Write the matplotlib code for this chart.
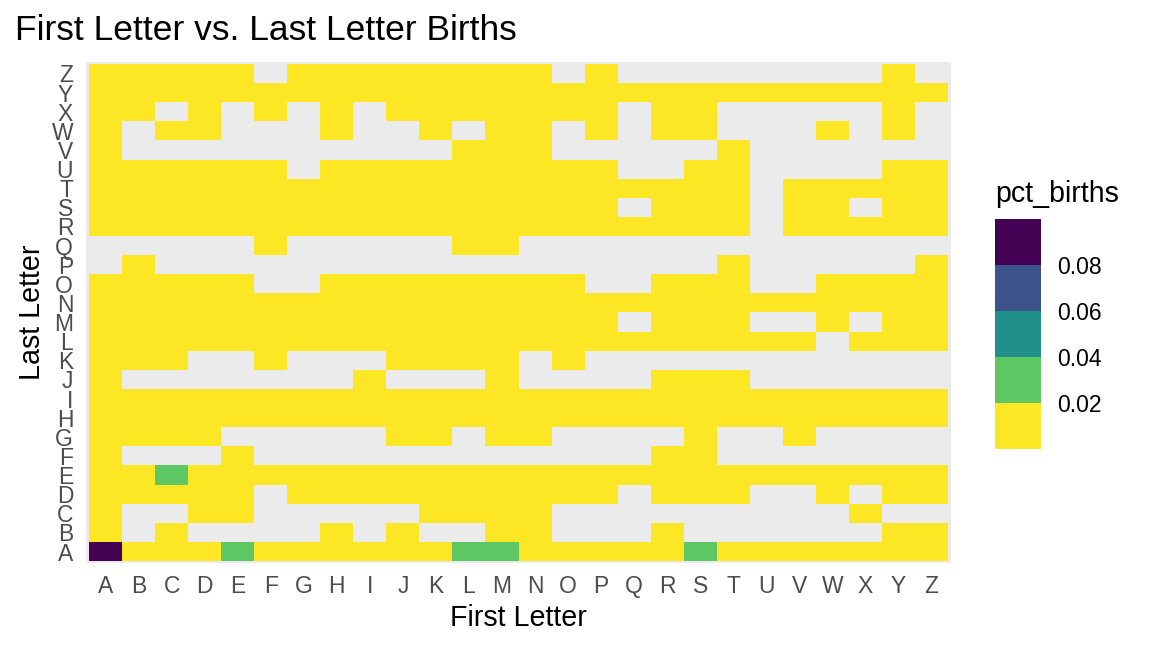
"""Heatmap of first letter vs. last letter share of births."""

import numpy as np
import matplotlib
matplotlib.use('Agg')
import matplotlib.pyplot as plt
from matplotlib.colors import ListedColormap, BoundaryNorm
import matplotlib.colorbar as mcolorbar

plt.rcParams['font.family'] = ['Liberation Sans', 'DejaVu Sans']

letters = list("ABCDEFGHIJKLMNOPQRSTUVWXYZ")

# presence of each combination: key = last letter, string = first letter A..Z
present_rows = {
    'A': "11111111111111111111111111",
    'B': "10100001010011000100000011",
    'C': "10011000001111000000000100",
    'D': "11111011111111110111001011",
    'E': "11111111111111111111111111",
    'F': "10001000000000000110000000",
    'G': "11110000011011000010010000",
    'H': "11111111111111111111111111",
    'I': "11111111111111111111111111",
    'J': "10000000100010000111000000",
    'K': "11100100011110100000000000",
    'L': "11111111111111111111110111",
    'M': "11111111111111110111001011",
    'N': "11111111111111111111111111",
    'O': "11111001111111100111001111",
    'P': "01000000000000000001000001",
    'Q': "00000100000110000000000000",
    'R': "11111111111111111111011111",
    'S': "11111111111111110111011011",
    'T': "11111111111111111111011111",
    'U': "11111101111111110011000011",
    'V': "10000000000111000001000000",
    'W': "10110001001011010110001010",
    'X': "11010101011111110110000010",
    'Y': "11111111111111111111111111",
    'Z': "11111011111111010000000010",
}

# most combinations sit below 0.02; the few larger ones (first, last)
base_pct = 0.005
notable_pct = {
    ('A', 'A'): 0.095,
    ('E', 'A'): 0.026,
    ('L', 'A'): 0.025,
    ('M', 'A'): 0.027,
    ('S', 'A'): 0.024,
    ('C', 'E'): 0.022,
}

bin_breaks = [0, 0.02, 0.04, 0.06, 0.08, 0.1]
bin_labels = ['0.02', '0.04', '0.06', '0.08']
bin_colors = ['#FDE725', '#5DC863', '#21908C', '#3B528B', '#440154']

# build value grid (rows = last letter, cols = first letter)
grid = np.full((26, 26), np.nan)
for r, last in enumerate(letters):
    for c, flag in enumerate(present_rows[last]):
        if flag == '1':
            grid[r, c] = notable_pct.get((letters[c], last), base_pct)
grid = np.ma.masked_invalid(grid)

cmap = ListedColormap(bin_colors)
norm = BoundaryNorm(bin_breaks, cmap.N)

fig = plt.figure(figsize=(11.52, 6.48), dpi=100)
ax = fig.add_axes([0.0744, 0.1312, 0.7514, 0.7731])
ax.set_facecolor('#EBEBEB')
edges = np.arange(27) - 0.5
ax.pcolormesh(edges, edges, grid, cmap=cmap, norm=norm, edgecolors='none')
ax.set_xlim(-0.6, 25.6)
ax.set_ylim(-0.6, 25.6)
ax.set_xticks(range(26))
ax.set_yticks(range(26))
ax.set_xticklabels(letters)
ax.set_yticklabels(letters)
ax.tick_params(length=0, labelsize=16.5, labelcolor='#4D4D4D', pad=9)
for s in ax.spines.values():
    s.set_visible(False)
ax.set_xlabel("First Letter", fontsize=20.6, labelpad=4)
ax.set_ylabel("Last Letter", fontsize=20.6, labelpad=4)

fig.text(0.013, 0.938, "First Letter vs. Last Letter Births", fontsize=25.5,
         va='baseline', ha='left')

# binned legend
cax = fig.add_axes([0.8637, 0.3071, 0.0399, 0.3549])
cb = mcolorbar.ColorbarBase(cax, cmap=cmap, norm=norm, boundaries=bin_breaks,
                            ticks=bin_breaks[1:-1], spacing='uniform')
cb.set_ticklabels(bin_labels)
cb.outline.set_visible(False)
cax.minorticks_off()
cax.tick_params(which='both', length=0, labelsize=16.5, pad=12)
fig.text(0.8637, 0.688, "pct_births", fontsize=20.6, va='baseline', ha='left')

plt.savefig('out.png', dpi=100)
